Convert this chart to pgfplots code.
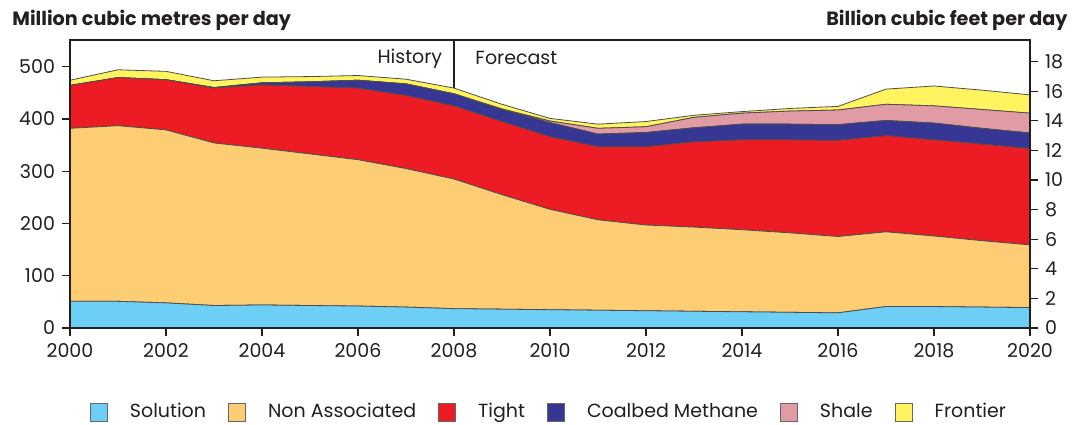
\documentclass[border=0pt]{standalone}
\usepackage{pgfplots}
\usepackage{pgfplotstable}
\usepackage{fontspec}
\setmainfont{Poppins}
\pgfplotsset{compat=1.18}

\definecolor{solc}{HTML}{6DCFF6}
\definecolor{nac}{HTML}{FDCD74}
\definecolor{tightc}{HTML}{ED1C24}
\definecolor{cbmc}{HTML}{363795}
\definecolor{shalec}{HTML}{E09BA4}
\definecolor{frontc}{HTML}{FFF35F}
\definecolor{ink}{HTML}{231F20}

% Gas production by type, million m3/d
\pgfplotstableread{
year sol na tight cbm shale front
2000 51 331 82 0 0 10
2001 51 336 92 0 0 15
2002 48 331 96 0 0 16
2003 43 311 105 1 0 13
2004 44 300 121 4 0 11
2005 43 290 129 9 0 10
2006 42 280 137 15 0 9
2007 40 265 140 22 0 9
2008 37 248 140 23 0 11
2009 36 219 140 23 1 9
2010 35 192 139 27 3 5
2011 34 173 140 24 11 8
2012 33 164 150 27 11 10
2013 32 161 163 27 20 4
2014 31 157 172 30 21 3
2015 30 152 178 30 25 5
2016 29 146 184 30 28 7
2017 41 143 184 29 31 29
2018 41 135 184 32 33 38
2019 40 127 185 30 36 37
2020 39 120 184 30 38 35
}\gasdata

\begin{document}
\begin{tikzpicture}
\pgfplotsset{
  base/.style={
    width=480pt, height=144pt, scale only axis,
    xmin=2000, xmax=2020,
    tick align=outside,
    major tick length=4pt,
    tick style={ink, line width=0.6pt},
    ticklabel style={font=\fontsize{9.5}{11}\selectfont, text=ink},
    /pgf/number format/assume math mode=true,
    /pgf/number format/1000 sep={},
  },
}
\begin{axis}[base, name=main,
  ymin=0, ymax=551,
  stack plots=y,
  xtick={2000,2002,...,2020},
  ytick={0,100,...,500},
  xtick pos=bottom, ytick pos=left,
  axis line style={ink, line width=1.4pt},
  axis on top,
  legend style={at={(0.5,-0.292)}, anchor=center, draw=none,
    legend columns=6, font=\fontsize{9.5}{11}\selectfont, text=ink,
    /tikz/every odd column/.append style={column sep=9pt},
    /tikz/every even column/.append style={column sep=9pt}},
  legend image code/.code={\draw[#1, draw=gray!80!black, line width=0.5pt] (0pt,-4.5pt) rectangle (8.5pt,4.5pt);},
]
\addplot[fill=solc, draw=ink!80, line width=0.4pt] table[x=year, y=sol] {\gasdata} \closedcycle;
\addlegendentry{Solution}
\addplot[fill=nac, draw=ink!80, line width=0.4pt] table[x=year, y=na] {\gasdata} \closedcycle;
\addlegendentry{Non Associated}
\addplot[fill=tightc, draw=ink!80, line width=0.4pt] table[x=year, y=tight] {\gasdata} \closedcycle;
\addlegendentry{Tight}
\addplot[fill=cbmc, draw=ink!80, line width=0.4pt] table[x=year, y=cbm] {\gasdata} \closedcycle;
\addlegendentry{Coalbed Methane}
\addplot[fill=shalec, draw=ink!80, line width=0.4pt] table[x=year, y=shale] {\gasdata} \closedcycle;
\addlegendentry{Shale}
\addplot[fill=frontc, draw=ink!80, line width=0.4pt] table[x=year, y=front] {\gasdata} \closedcycle;
\addlegendentry{Frontier}

\draw[ink, line width=1.3pt] (axis cs:2008,0) -- (axis cs:2008,551);
\node[anchor=east, font=\fontsize{9.5}{11}\selectfont, text=ink] at (axis cs:2007.9,516) {History};
\node[anchor=west, font=\fontsize{9.5}{11}\selectfont, text=ink] at (axis cs:2008.3,516) {Forecast};
\end{axis}

\begin{axis}[base,
  ymin=0, ymax=19.46,
  axis x line=none,
  axis y line*=right,
  y axis line style={ink, line width=1.4pt},
  ytick={0,2,...,18},
]
\end{axis}

\node[anchor=base west, inner sep=0pt, font=\bfseries\fontsize{9.6}{12}\selectfont, text=ink]
  at ([xshift=-29pt, yshift=7pt]main.north west) {Million cubic metres per day};
\node[anchor=base east, inner sep=0pt, font=\bfseries\fontsize{9.6}{12}\selectfont, text=ink]
  at ([xshift=19pt, yshift=7pt]main.north east) {Billion cubic feet per day};

\pgfresetboundingbox
\path[use as bounding box] ([xshift=-35pt, yshift=-48.5pt]main.south west)
  rectangle ([xshift=21.5pt, yshift=20pt]main.north east);
\end{tikzpicture}
\end{document}
